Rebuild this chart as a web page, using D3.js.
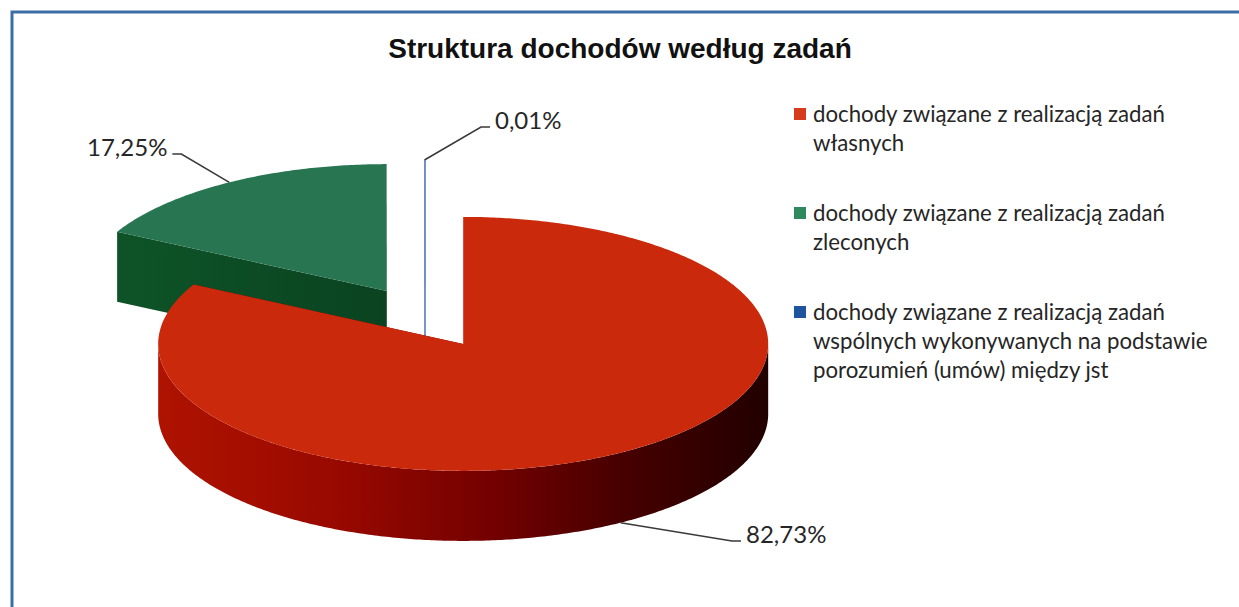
<!DOCTYPE html>
<html><head><meta charset="utf-8">
<script src="https://cdn.jsdelivr.net/npm/d3@7"></script>
<style>body{margin:0;background:#fff;} svg{display:block}</style>
</head><body>
<svg id="c" width="1239" height="607"></svg>
<script>
// ---- data ----
const title = "Struktura dochodów według zadań";
const categories = [
  "dochody związane z realizacją zadań własnych",
  "dochody związane z realizacją zadań zleconych",
  "dochody związane z realizacją zadań wspólnych wykonywanych na podstawie porozumień (umów) między jst"
];
const legendLines = [
  ["dochody związane z realizacją zadań", "własnych"],
  ["dochody związane z realizacją zadań", "zleconych"],
  ["dochody związane z realizacją zadań", "wspólnych wykonywanych na podstawie", "porozumień (umów) między jst"]
];
const values = [82.73, 17.25, 0.01];
const valueLabels = ["82,73%", "17,25%", "0,01%"];

// ---- styles / layout ----
const topColors = ["#cb290b", "#287552", "#3f6fb0"];
const legendColors = ["#d63c1c", "#2e8a5e", "#1f559f"];
const cx = 425, cy = 317.5, rx = 305, ry = 127, depth = 70, explode = 74;

const svg = d3.select("#c");
const defs = svg.append("defs");
const gRed = defs.append("linearGradient").attr("id", "sideRed")
  .attr("gradientUnits", "userSpaceOnUse").attr("x1", 150).attr("x2", 775).attr("y1", 0).attr("y2", 0);
[[0, "#b01300"], [0.3, "#980900"], [0.55, "#720100"], [0.75, "#480000"], [1, "#200000"]]
  .forEach(s => gRed.append("stop").attr("offset", s[0]).attr("stop-color", s[1]));
const gGreen = defs.append("linearGradient").attr("id", "sideGreen")
  .attr("gradientUnits", "userSpaceOnUse").attr("x1", 110).attr("x2", 390).attr("y1", 0).attr("y2", 0);
[[0, "#0e5428"], [1, "#0a4320"]].forEach(s => gGreen.append("stop").attr("offset", s[0]).attr("stop-color", s[1]));
const sideFills = ["url(#sideRed)", "url(#sideGreen)", "#2c4f85"];
const radialFills = ["#7a0000", "url(#sideGreen)", "#2c4f85"];

// frame
svg.append("rect").attr("x", 12).attr("y", 12).attr("width", 1240).attr("height", 610)
  .attr("fill", "#fff").attr("stroke", "#3d6ea6").attr("stroke-width", 3);

// title
svg.append("text").attr("x", 620).attr("y", 58).attr("text-anchor", "middle")
  .attr("font-family", "'Liberation Sans', Arial, sans-serif").attr("font-weight", "bold")
  .attr("font-size", 28).attr("fill", "#111").text(title);

// ---- pie ----
const pie = d3.pie().sort(null).value(d => d);
const arcs = pie(values);
const line = d3.line();
const rScale = d3.scaleLinear().domain([0, 1]).range([0, 1]);

arcs.forEach((a, i) => {
  const mid = (a.startAngle + a.endAngle) / 2;
  a.ox = explode * Math.sin(mid);
  a.oy = -explode * (ry / rx) * Math.cos(mid);
  a.i = i;
});
function P(a, ang, r, z) {
  return [cx + a.ox + rx * rScale(r) * Math.sin(ang), cy + a.oy - ry * rScale(r) * Math.cos(ang) + z];
}
function arcPts(a, s, e, z) {
  const n = Math.max(2, Math.ceil((e - s) / 0.01));
  return d3.range(n + 1).map(k => P(a, s + (e - s) * k / n, 1, z));
}
const order = arcs.slice().sort((p, q) => p.oy - q.oy);
const pieG = svg.append("g");
order.forEach(a => {
  const g = pieG.append("g");
  const i = a.i;
  const thin = (a.endAngle - a.startAngle) < 0.01;
  const strokeAttr = sel => thin ? sel.attr("stroke", "#6f8fc0").attr("stroke-width", 1.4) : sel.attr("stroke", "none");
  // radial faces
  [a.startAngle, a.endAngle].forEach(ang => {
    const pts = [P(a, ang, 0, 0), P(a, ang, 1, 0), P(a, ang, 1, depth), P(a, ang, 0, depth)];
    g.append("path").attr("d", line(pts) + "Z").attr("fill", radialFills[i]).call(strokeAttr);
  });
  // outer front side
  const s = Math.max(a.startAngle, Math.PI / 2), e = Math.min(a.endAngle, 3 * Math.PI / 2);
  if (e > s) {
    const pts = arcPts(a, s, e, 0).concat(arcPts(a, s, e, depth).reverse());
    g.append("path").attr("d", line(pts) + "Z").attr("fill", sideFills[i]);
  }
  // top face
  const top = [P(a, 0, 0, 0)].concat(arcPts(a, a.startAngle, a.endAngle, 0));
  g.append("path").attr("d", line(top) + "Z").attr("fill", topColors[i]).call(strokeAttr);
});

// ---- data labels with leaders ----
const labelFont = "Lato, 'Open Sans', sans-serif";
const labelPos = [[746, 543], [87, 156], [495, 129]];
const anchorDepth = [depth, 0, 0];
arcs.forEach((a, i) => {
  const mid = (a.startAngle + a.endAngle) / 2;
  const anchor = P(a, mid, 1, anchorDepth[i]);
  const t = svg.append("text").attr("x", labelPos[i][0]).attr("y", labelPos[i][1])
    .attr("font-family", labelFont).attr("font-size", 24).attr("fill", "#262626").text(valueLabels[i]);
  const bb = t.node().getBBox();
  const ly = labelPos[i][1] - 2;
  let pts;
  if (anchor[0] < bb.x) pts = [[bb.x - 5, ly], [bb.x - 14, ly], anchor];
  else pts = [[bb.x + bb.width + 5, ly], [bb.x + bb.width + 14, ly], anchor];
  svg.append("path").attr("d", line(pts)).attr("fill", "none").attr("stroke", "#3a3a3a").attr("stroke-width", 1.6);
});

// ---- legend ----
const legendFont = "Lato, 'Open Sans', sans-serif";
let base = 122;
const lg = svg.append("g");
legendLines.forEach((lines, i) => {
  lg.append("rect").attr("x", 794).attr("y", base - 14).attr("width", 12).attr("height", 12).attr("fill", legendColors[i]);
  lines.forEach((txt, k) => {
    lg.append("text").attr("class", "lg").attr("x", 813).attr("y", base + k * 29)
      .attr("font-family", legendFont).attr("font-size", 20).attr("fill", "#262626").text(txt);
  });
  base += (lines.length - 1) * 29 + 70;
});
// fit legend font to reference width of the first line
const firstW = lg.select("text.lg").node().getComputedTextLength();
const fs = 20 * 352 / firstW;
lg.selectAll("text.lg").attr("font-size", fs);
</script>
</body></html>
